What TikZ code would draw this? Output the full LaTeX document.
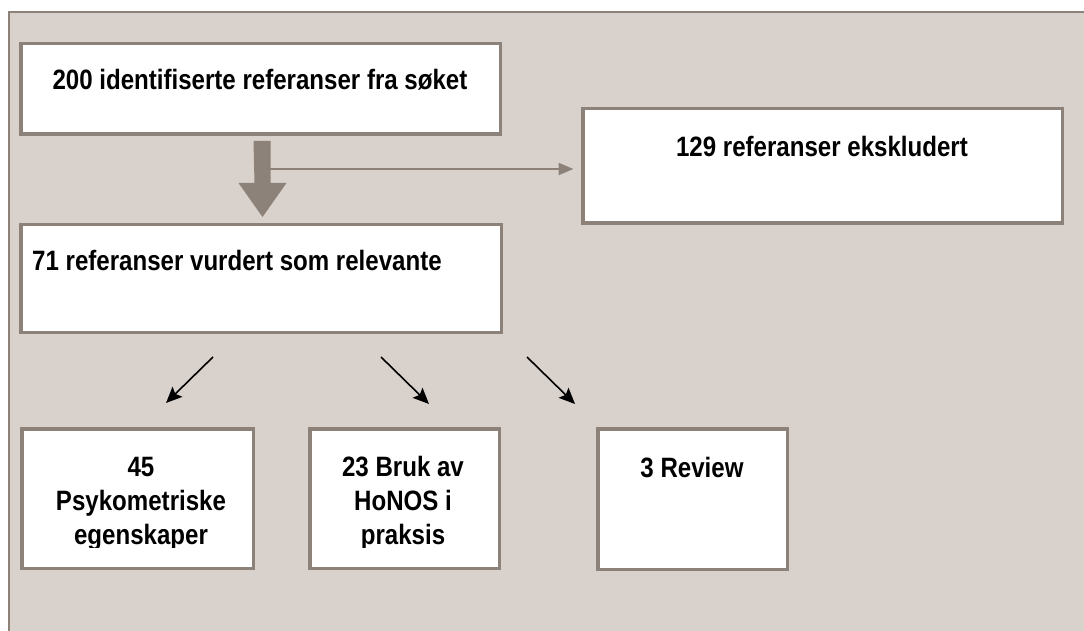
\documentclass[tikz,border=0pt]{standalone}
\usepackage{fontspec}
\setmainfont{Liberation Sans}[FakeStretch=0.86]
\usetikzlibrary{arrows.meta}
\definecolor{bg}{HTML}{D9D1CB}
\definecolor{edge}{HTML}{8C8279}
\begin{document}
\begin{tikzpicture}[x=1pt,y=-1pt,
  box/.style={draw=edge, fill=white, line width=3.5pt, inner sep=0pt, rectangle},
  txt/.style={font=\bfseries\fontsize{28}{34}\selectfont, inner sep=0pt, align=center, text=black},
  thin/.style={draw=black, line width=1.6pt, -{Stealth[length=16pt,width=14pt,inset=3pt]}},
  grayarrow/.style={draw=edge, line width=2pt, -{Triangle[length=15pt,width=12pt]}}]
\useasboundingbox (0,0) rectangle (1084,631);
\fill[bg] (9,12) rectangle (1084,631);
\draw[edge, line width=2pt] (9,631) -- (9,12) -- (1084,12);

% boxes
\node[box, minimum width=479.5pt, minimum height=90.5pt] (b1) at (260.5,89) {};
\node[box, minimum width=479.5pt, minimum height=114.5pt] (b2) at (822.5,166) {};
\node[box, minimum width=480.5pt, minimum height=107.5pt] (b3) at (261,278.5) {};
\node[box, minimum width=231.5pt, minimum height=139.5pt] (b4) at (137.5,498.5) {};
\node[box, minimum width=189.5pt, minimum height=139.5pt] (b5) at (404.5,498.5) {};
\node[box, minimum width=189.5pt, minimum height=140.5pt] (b6) at (692.5,499) {};

% texts
\node[txt, anchor=base] (t1) at (260,90) {200 identifiserte referanser fra søket};
\node[txt, anchor=base] (t2) at (822,157) {129 referanser ekskludert};
\node[txt, anchor=base west] (t3) at (32,270) {71 referanser vurdert som relevante};
\begin{scope}
  \clip (0,0) rectangle (1084,547);
  \node[txt, anchor=base] (t4) at (141,544) {45\\Psykometriske\\egenskaper};
  \node[txt, anchor=base] (t5) at (403,544) {23 Bruk av\\HoNOS i\\praksis};
\end{scope}
\node[txt, anchor=base] (t6) at (692,477) {3 Review};

% thick arrow from b1 to b3
\coordinate (ts) at (262,141);
\fill[edge] (ts) ++(-8.5,0) -- ++(17,0) -- ++(0,42) -- ++(16,0) -- ++(-24,34) -- ++(-24,-34) -- ++(16,0) -- cycle;

% thin gray arrow to b2
\coordinate (hs) at (270,169);
\draw[grayarrow, shorten >=7.5pt] (hs) -- (hs -| b2.west);

% small arrows
\coordinate (s1) at (213,357); \coordinate (e1) at (166,403);
\coordinate (s2) at (381,357); \coordinate (e2) at (429,404);
\coordinate (s3) at (527,357); \coordinate (e3) at (575,404);
\draw[thin] (s1) -- (e1);
\draw[thin] (s2) -- (e2);
\draw[thin] (s3) -- (e3);
\end{tikzpicture}
\end{document}
